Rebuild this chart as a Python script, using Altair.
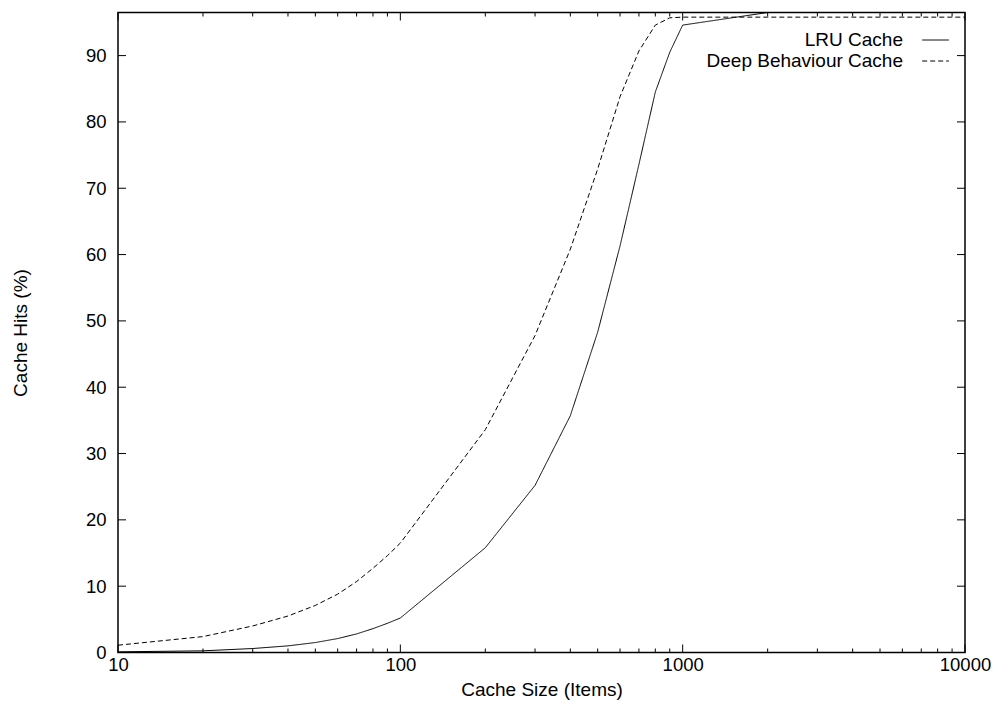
import altair as alt
import pandas as pd

# ---- data ----
sizes = [10, 20, 30, 40, 50, 60, 70, 80, 90, 100,
         200, 300, 400, 500, 600, 700, 800, 900, 1000,
         2000, 3000, 4000, 5000, 6000, 7000, 8000, 9000, 10000]
lru = [0.1, 0.25, 0.6, 1.0, 1.5, 2.1, 2.8, 3.6, 4.4, 5.2,
       15.8, 25.2, 35.7, 48.3, 61.3, 73.6, 84.5, 90.5, 94.6,
       96.5, 96.5, 96.5, 96.5, 96.5, 96.5, 96.5, 96.5, 96.5]
deep = [1.1, 2.4, 4.0, 5.5, 7.1, 8.8, 10.7, 12.7, 14.6, 16.5,
        33.6, 47.8, 60.8, 72.9, 83.8, 90.7, 94.6, 95.7, 95.8,
        95.8, 95.8, 95.8, 95.8, 95.8, 95.8, 95.8, 95.8, 95.8]
series_names = ["LRU Cache", "Deep Behaviour Cache"]

x_major = [10, 100, 1000, 10000]
x_minor = [20, 30, 40, 50, 60, 70, 80, 90,
           200, 300, 400, 500, 600, 700, 800, 900,
           2000, 3000, 4000, 5000, 6000, 7000, 8000, 9000]
y_ticks = [0, 10, 20, 30, 40, 50, 60, 70, 80, 90]

W, H = 847, 640
FONT = "Liberation Sans"

rows = []
for s, a, b in zip(sizes, lru, deep):
    rows.append({"size": s, "hits": a, "series": series_names[0]})
    rows.append({"size": s, "hits": b, "series": series_names[1]})
df = pd.DataFrame(rows)

xscale = alt.Scale(type="log", domain=[10, 10000], nice=False)
yscale = alt.Scale(domain=[0, 96.5], nice=False, zero=False)

lines = alt.Chart(df).mark_line(color="black", strokeWidth=1).encode(
    x=alt.X("size:Q", scale=xscale,
            axis=alt.Axis(title="Cache Size (Items)", values=x_major, format="d",
                          ticks=False, domain=False, grid=False,
                          labelFlush=False, labelOverlap=False,
                          labelPadding=3, labelFontSize=18.5, labelFont=FONT,
                          labelColor="black", titleFont=FONT, titleFontSize=19,
                          titleFontWeight="normal", titleColor="black",
                          titleBaseline="top", titleY=27.5)),
    y=alt.Y("hits:Q", scale=yscale,
            axis=alt.Axis(title="Cache Hits (%)", values=y_ticks,
                          ticks=False, domain=False, grid=False,
                          labelFlush=False, labelOverlap=False,
                          labelPadding=12, labelFontSize=18.5, labelFont=FONT,
                          labelColor="black", titleFont=FONT, titleFontSize=19,
                          titleFontWeight="normal", titleColor="black",
                          titleX=-98, titleY=H / 2, titleBaseline="middle",
                          titleAlign="center", titleAngle=270)),
    strokeDash=alt.StrokeDash(
        "series:N",
        scale=alt.Scale(domain=series_names, range=[[1, 0], [5, 3]]),
        sort=series_names,
        legend=alt.Legend(title=None, orient="none", legendX=806.5, legendY=16.5,
                          labelAlign="right", labelOffset={"expr": "-43.5"},
                          symbolType="M-1.27,0H1.27", symbolSize=441,
                          symbolStrokeWidth=1, symbolStrokeColor="black",
                          symbolFillColor="transparent",
                          labelFontSize=19, labelFont=FONT, labelColor="black",
                          rowPadding=0, padding=0, labelLimit=0)),
)

dmaj = pd.DataFrame({"v": x_major})
dmin = pd.DataFrame({"v": x_minor})
dy = pd.DataFrame({"v": y_ticks})

def xt(d, y0, y1):
    return alt.Chart(d).mark_rule(color="black", strokeWidth=1).encode(
        x=alt.X("v:Q", scale=xscale, axis=None),
        y=alt.value(y0), y2=alt.value(y1))

def yt(x0, x1):
    return alt.Chart(dy).mark_rule(color="black", strokeWidth=1).encode(
        y=alt.Y("v:Q", scale=yscale, axis=None),
        x=alt.value(x0), x2=alt.value(x1))

ticks = [xt(dmaj, H, H - 8), xt(dmin, H, H - 4),
         xt(dmaj, 0, 8), xt(dmin, 0, 4),
         yt(0, 8), yt(W, W - 8)]

chart = alt.layer(lines, *ticks).resolve_axis(
    x="independent", y="independent"
).properties(
    width=W, height=H,
    autosize=alt.AutoSizeParams(type="none"),
    padding={"left": 110, "top": 4.5, "right": 26, "bottom": 49},
    background="white",
).configure_view(stroke="black", strokeWidth=1.5)

chart.save("out.html", embed_options={"renderer": "svg", "actions": False})
